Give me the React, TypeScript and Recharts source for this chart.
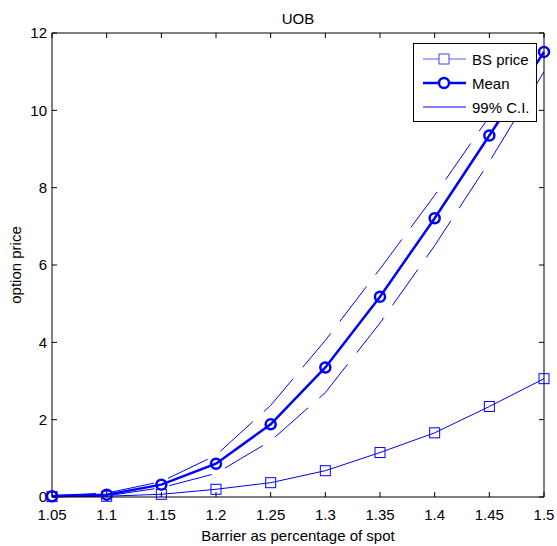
import React from 'react';
import { LineChart, Line, XAxis, YAxis, Legend, Label } from 'recharts';

// Barrier level (as a fraction of spot) and option prices
const barriers = [1.05, 1.1, 1.15, 1.2, 1.25, 1.3, 1.35, 1.4, 1.45, 1.5];
const bsPrice = [0.01, 0.02, 0.07, 0.2, 0.37, 0.68, 1.15, 1.66, 2.34, 3.06];
const meanPrice = [0.02, 0.06, 0.32, 0.86, 1.88, 3.35, 5.18, 7.21, 9.35, 11.51];
const ciUpper = [0.04, 0.1, 0.4, 1.08, 2.37, 4.05, 5.9, 7.8, 9.84, 12.0];
const ciLower = [0.01, 0.03, 0.24, 0.61, 1.45, 2.7, 4.5, 6.5, 8.67, 11.0];

const xTicks = [1.05, 1.1, 1.15, 1.2, 1.25, 1.3, 1.35, 1.4, 1.45, 1.5];
const yTicks = [0, 2, 4, 6, 8, 10, 12];

const seriesNames = ['BS price', 'Mean', '99% C.I.'];

const rows = barriers.map((b, i) => ({
  barrier: b,
  bs: bsPrice[i],
  mean: meanPrice[i],
  upper: ciUpper[i],
  lower: ciLower[i],
}));

const BLUE = '#0000ff';
const FONT = '"Liberation Sans", Arial, Helvetica, sans-serif';
const FS = 15;
const tickStyle = { fill: '#000', fontSize: FS, fontFamily: FONT };

const SquareDot = (props: any) => {
  const { cx, cy, index } = props;
  if (cx == null || cy == null) return <g key={`sq-${index}`} />;
  return (
    <rect
      key={`sq-${index}`}
      x={cx - 5}
      y={cy - 5}
      width={10}
      height={10}
      fill="none"
      stroke={BLUE}
      strokeWidth={1}
    />
  );
};

const CircleDot = (props: any) => {
  const { cx, cy, index } = props;
  if (cx == null || cy == null) return <g key={`ci-${index}`} />;
  return <circle key={`ci-${index}`} cx={cx} cy={cy} r={5} fill="none" stroke={BLUE} strokeWidth={2.5} />;
};

const LegendBox = () => (
  <div
    style={{
      position: 'relative',
      width: 124,
      height: 79,
      boxSizing: 'border-box',
      border: '1px solid #000',
      background: '#fff',
      fontFamily: FONT,
      fontSize: FS,
      color: '#000',
    }}
  >
    {seriesNames.map((name, i) => (
      <div
        key={name}
        style={{ position: 'absolute', left: 0, top: 3 + i * 24, height: 24, display: 'flex', alignItems: 'center' }}
      >
        <svg width={58} height={24} style={{ display: 'block' }}>
          <line x1={9} x2={52} y1={12} y2={12} stroke={BLUE} strokeWidth={i === 1 ? 2.5 : 1} strokeOpacity={i === 0 ? 0.65 : 1} />
          {i === 0 && <rect x={25} y={7} width={10} height={10} fill="#fff" stroke={BLUE} strokeOpacity={0.75} strokeWidth={1} />}
          {i === 1 && <circle cx={30} cy={12} r={5} fill="#fff" stroke={BLUE} strokeWidth={2.5} />}
        </svg>
        <span style={{ whiteSpace: 'nowrap' }}>{name}</span>
      </div>
    ))}
  </div>
);

const renderTitle = (props: any) => {
  const vb = props.viewBox || {};
  return (
    <text x={vb.x + vb.width / 2} y={vb.y - 8} textAnchor="middle" fontFamily={FONT} fontSize={FS} fill="#000">
      UOB
    </text>
  );
};

const renderXLabel = (props: any) => {
  const vb = props.viewBox || {};
  return (
    <text x={vb.x + vb.width / 2} y={vb.y + 44} textAnchor="middle" fontFamily={FONT} fontSize={FS} fill="#000">
      Barrier as percentage of spot
    </text>
  );
};

const renderYLabel = (props: any) => {
  const vb = props.viewBox || {};
  const cx = vb.x + 21;
  const cy = vb.y + vb.height / 2;
  return (
    <text x={cx} y={cy} transform={`rotate(-90 ${cx} ${cy})`} textAnchor="middle" fontFamily={FONT} fontSize={FS} fill="#000">
      option price
    </text>
  );
};

const emptyTick = () => <g />;

export default function App() {
  return (
    <div style={{ position: 'absolute', left: 0, top: 0, background: '#fff' }}>
      <LineChart width={557} height={546} data={rows} margin={{ top: 32, right: 12, bottom: 0, left: 0 }}>
        <XAxis
          dataKey="barrier"
          type="number"
          domain={[1.05, 1.5]}
          ticks={xTicks}
          tickFormatter={(v: number) => String(v)}
          height={49}
          tickSize={-5}
          tickMargin={17}
          tick={tickStyle}
          axisLine={{ stroke: '#000', strokeWidth: 1 }}
          tickLine={{ stroke: '#000', strokeWidth: 1 }}
          interval={0}
        >
          <Label content={renderXLabel} />
        </XAxis>
        <XAxis
          xAxisId="top"
          dataKey="barrier"
          orientation="top"
          type="number"
          domain={[1.05, 1.5]}
          ticks={xTicks}
          height={1}
          tickSize={-5}
          tick={emptyTick}
          axisLine={{ stroke: '#000', strokeWidth: 1 }}
          tickLine={{ stroke: '#000', strokeWidth: 1 }}
          interval={0}
        >
          <Label content={renderTitle} />
        </XAxis>
        <YAxis
          type="number"
          domain={[0, 12]}
          ticks={yTicks}
          width={52}
          tickSize={-5}
          tickMargin={10}
          tick={tickStyle}
          axisLine={{ stroke: '#000', strokeWidth: 1 }}
          tickLine={{ stroke: '#000', strokeWidth: 1 }}
          interval={0}
        >
          <Label content={renderYLabel} />
        </YAxis>
        <YAxis
          yAxisId="right"
          orientation="right"
          type="number"
          domain={[0, 12]}
          ticks={yTicks}
          width={1}
          tickSize={-5}
          tick={emptyTick}
          axisLine={{ stroke: '#000', strokeWidth: 1 }}
          tickLine={{ stroke: '#000', strokeWidth: 1 }}
          interval={0}
        />
        <Line
          dataKey="bs"
          name="BS price"
          type="linear"
          stroke={BLUE}
          strokeWidth={1}
          dot={SquareDot}
          activeDot={false}
          isAnimationActive={false}
        />
        <Line
          dataKey="mean"
          name="Mean"
          type="linear"
          stroke={BLUE}
          strokeWidth={2.5}
          dot={CircleDot}
          activeDot={false}
          isAnimationActive={false}
        />
        <Line
          dataKey="upper"
          name="99% C.I."
          xAxisId="top"
          yAxisId="right"
          type="linear"
          stroke={BLUE}
          strokeWidth={1}
          strokeDasharray="44 15"
          dot={false}
          activeDot={false}
          isAnimationActive={false}
        />
        <Line
          dataKey="lower"
          name="99% C.I. (lower)"
          xAxisId="top"
          yAxisId="right"
          type="linear"
          stroke={BLUE}
          strokeWidth={1}
          strokeDasharray="44 15"
          dot={false}
          activeDot={false}
          isAnimationActive={false}
        />
        <Legend
          layout="vertical"
          align="center"
          verticalAlign="middle"
          wrapperStyle={{ left: 413, top: 43, width: 124, height: 79 }}
          content={LegendBox}
        />
      </LineChart>
    </div>
  );
}
